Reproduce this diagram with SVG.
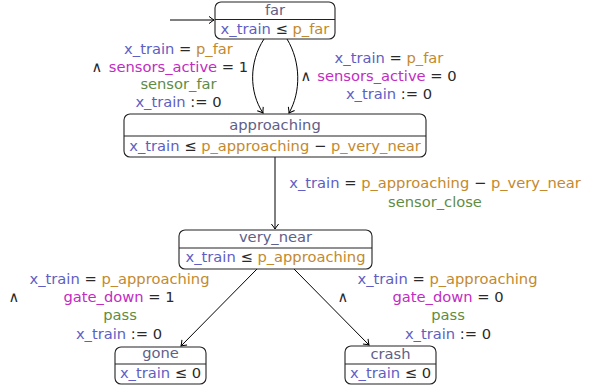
<svg xmlns="http://www.w3.org/2000/svg" width="597" height="389" viewBox="0 0 597 389">
<style>
text{font-family:"DejaVu Sans",sans-serif;font-size:14.7px;fill:#2a2a2a}
.c{text-anchor:middle}
.t{fill:#606088}
.v{fill:#5e5ec4}
.p{fill:#c3892f}
.m{fill:#c22cc2}
.g{fill:#5f8c42}
.box{fill:#fff;stroke:#222;stroke-width:1.1}
.div{stroke:#222;stroke-width:1.1}
.e{fill:none;stroke:#000;stroke-width:1}
</style>
<defs>
<marker id="ah" viewBox="-6 -5 8 10" markerWidth="8" markerHeight="10" refX="0" refY="0" orient="auto" markerUnits="userSpaceOnUse">
<path d="M-5,-3.6 Q-1.5,-0.8 0,0 Q-1.5,0.8 -5,3.6" fill="none" stroke="#000" stroke-width="1"/>
</marker>
</defs>
<g id="connectors">
<path class="e" d="M170,20 L214,20" marker-end="url(#ah)"/>
<path class="e" d="M264,39 C249,62 249,92 263,113" marker-end="url(#ah)"/>
<path class="e" d="M287,39 C301,62 301,92 289,113" marker-end="url(#ah)"/>
<path class="e" d="M275,157 L275,229" marker-end="url(#ah)"/>
<path class="e" d="M257,269 L181,346" marker-end="url(#ah)"/>
<path class="e" d="M294,269 L369,345" marker-end="url(#ah)"/>
<g id="label-far-left">
<text class="c" x="178.5" y="54"><tspan class="v">x_train</tspan> = <tspan class="p">p_far</tspan></text>
<text class="c" y="72"><tspan x="97">∧</tspan><tspan x="178.5"><tspan class="m">sensors_active</tspan> = 1</tspan></text>
<text class="c g" x="178.5" y="89">sensor_far</text>
<text class="c" x="178.5" y="107"><tspan class="v">x_train</tspan> := 0</text>
</g>
<g id="label-far-right">
<text class="c" x="389" y="63"><tspan class="v">x_train</tspan> = <tspan class="p">p_far</tspan></text>
<text class="c" y="81"><tspan x="306">∧</tspan><tspan x="387"><tspan class="m">sensors_active</tspan> = 0</tspan></text>
<text class="c" x="389" y="99"><tspan class="v">x_train</tspan> := 0</text>
</g>
<g id="label-approaching">
<text class="c" x="435" y="188"><tspan class="v">x_train</tspan> = <tspan class="p">p_approaching</tspan> − <tspan class="p">p_very_near</tspan></text>
<text class="c g" x="435" y="207">sensor_close</text>
</g>
<g id="label-gone">
<text class="c" x="119.5" y="284"><tspan class="v">x_train</tspan> = <tspan class="p">p_approaching</tspan></text>
<text class="c" y="302"><tspan x="14">∧</tspan><tspan x="119"><tspan class="m">gate_down</tspan> = 1</tspan></text>
<text class="c g" x="120" y="320">pass</text>
<text class="c" x="119" y="339"><tspan class="v">x_train</tspan> := 0</text>
</g>
<g id="label-crash">
<text class="c" x="447.5" y="284"><tspan class="v">x_train</tspan> = <tspan class="p">p_approaching</tspan></text>
<text class="c" y="302"><tspan x="343">∧</tspan><tspan x="448"><tspan class="m">gate_down</tspan> = 0</tspan></text>
<text class="c g" x="448" y="320">pass</text>
<text class="c" x="448" y="339"><tspan class="v">x_train</tspan> := 0</text>
</g>
</g>
<g id="far">
<rect class="box" x="215" y="2" width="120" height="37" rx="6"/>
<line class="div" x1="215" y1="19.5" x2="335" y2="19.5"/>
<text class="c t" x="275" y="15">far</text>
<text class="c" x="275" y="34"><tspan class="v">x_train</tspan> ≤ <tspan class="p">p_far</tspan></text>
</g>
<g id="approaching">
<rect class="box" x="124" y="114" width="302" height="43" rx="6"/>
<line class="div" x1="124" y1="136" x2="426" y2="136"/>
<text class="c t" x="275" y="130">approaching</text>
<text class="c" x="275" y="151"><tspan class="v">x_train</tspan> ≤ <tspan class="p">p_approaching</tspan> − <tspan class="p">p_very_near</tspan></text>
</g>
<g id="very_near">
<rect class="box" x="179" y="230" width="193" height="39" rx="6"/>
<line class="div" x1="179" y1="248" x2="372" y2="248"/>
<text class="c t" x="275.5" y="242">very_near</text>
<text class="c" x="275.5" y="262"><tspan class="v">x_train</tspan> ≤ <tspan class="p">p_approaching</tspan></text>
</g>
<g id="gone">
<rect class="box" x="115" y="347" width="91" height="37" rx="6"/>
<line class="div" x1="115" y1="364" x2="206" y2="364"/>
<text class="c t" x="160.5" y="358">gone</text>
<text class="c" x="160.5" y="378"><tspan class="v">x_train</tspan> ≤ 0</text>
</g>
<g id="crash">
<rect class="box" x="345" y="346" width="91" height="38" rx="6"/>
<line class="div" x1="345" y1="364" x2="436" y2="364"/>
<text class="c t" x="390.5" y="359">crash</text>
<text class="c" x="390.5" y="378"><tspan class="v">x_train</tspan> ≤ 0</text>
</g>
</svg>
